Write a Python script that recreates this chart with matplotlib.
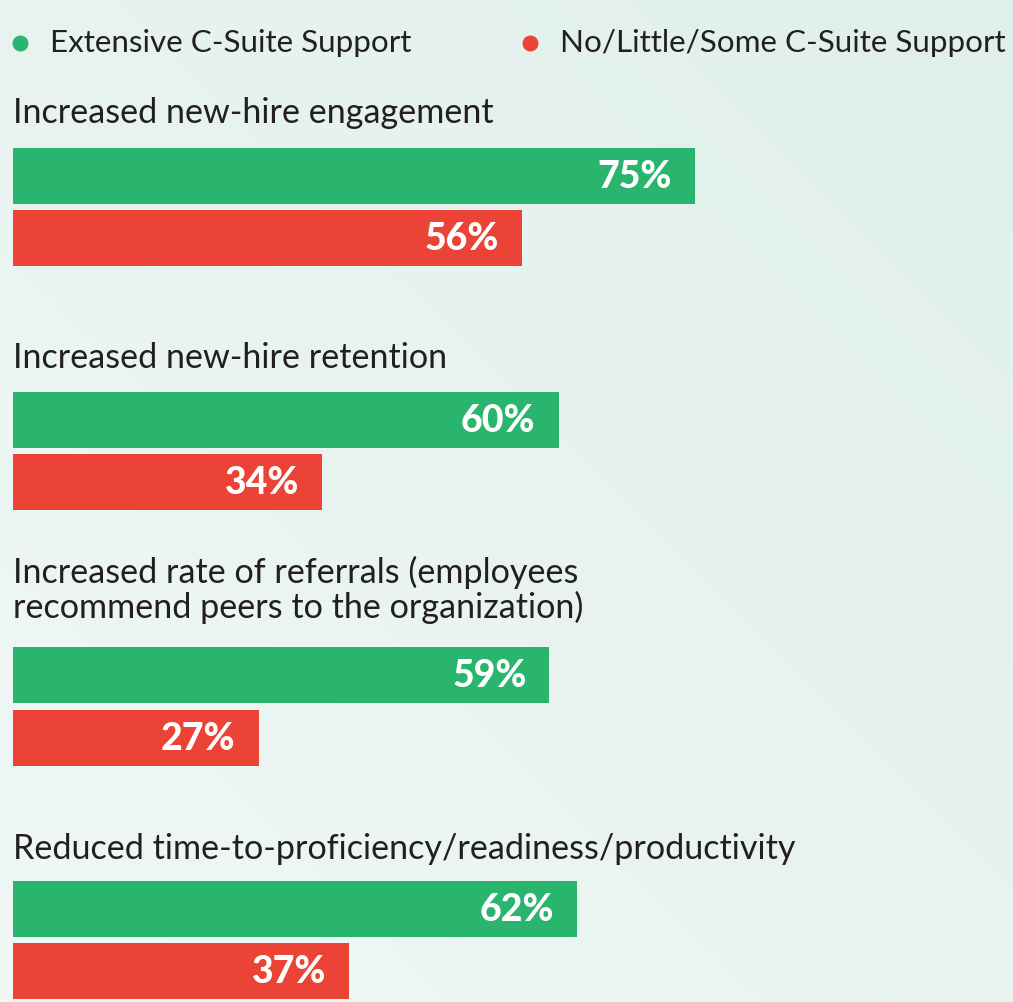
import matplotlib.pyplot as plt
import numpy as np

# data
categories = [
    "Increased new-hire engagement",
    "Increased new-hire retention",
    "Increased rate of referrals (employees\nrecommend peers to the organization)",
    "Reduced time-to-proficiency/readiness/productivity",
]
extensive = [75, 60, 59, 62]
little = [56, 34, 27, 37]
series_names = ["Extensive C-Suite Support", "No/Little/Some C-Suite Support"]

green = "#29b56e"
red = "#ec4337"
dark = "#231f20"

# layout in pixels (y downwards)
label_y = [113, 358, 590, 849]
green_y = [176, 420, 675, 909]
red_y = [238, 482, 738, 971]
bar_h = 56

W, H = 1013, 1002
px_per_pct = 9.093
x0 = 13

fig = plt.figure(figsize=(W / 100, H / 100), dpi=100)

# background gradient
bg = fig.add_axes([0, 0, 1, 1], zorder=0)
yy, xx = np.mgrid[0:1:200j, 0:1:200j]
t = (xx + (1 - yy)) / 2  # 1 at top right
c_lo = np.array([0xf0, 0xf8, 0xf6]) / 255
c_hi = np.array([0xe0, 0xef, 0xe9]) / 255
img = c_lo[None, None, :] * (1 - t[..., None]) + c_hi[None, None, :] * t[..., None]
bg.imshow(img, extent=[0, 1, 0, 1], aspect="auto", origin="upper")
bg.axis("off")

ax = fig.add_axes([0, 0, 1, 1], zorder=1)
ax.patch.set_alpha(0)
ax.set_xlim(-x0 / px_per_pct, (W - x0) / px_per_pct)
ax.set_ylim(H, 0)
ax.axis("off")

ax.barh(green_y, extensive, height=bar_h, color=green, left=0)
ax.barh(red_y, little, height=bar_h, color=red, left=0)

inset = 23 / px_per_pct
for ys, vals in [(green_y, extensive), (red_y, little)]:
    for y, v in zip(ys, vals):
        ax.text(v - inset, y + 1, f"{v}%", color="white", fontsize=27,
                fontfamily="Lato", fontweight="black", ha="right", va="center")

for y, c in zip(label_y, categories):
    ax.text(0, y, c, color=dark, fontsize=24.6, fontfamily="Lato",
            ha="left", va="center", linespacing=1.1)

# legend
leg_x = [20, 530]
for lx, name, col in zip(leg_x, series_names, [green, red]):
    xv = (lx - x0) / px_per_pct
    ax.scatter([xv], [43], s=110, color=col, zorder=3)
    ax.text(xv + 30 / px_per_pct, 43, name, color=dark, fontsize=22.6,
            fontfamily="Lato", ha="left", va="center")

fig.savefig("out.png", dpi=100)
